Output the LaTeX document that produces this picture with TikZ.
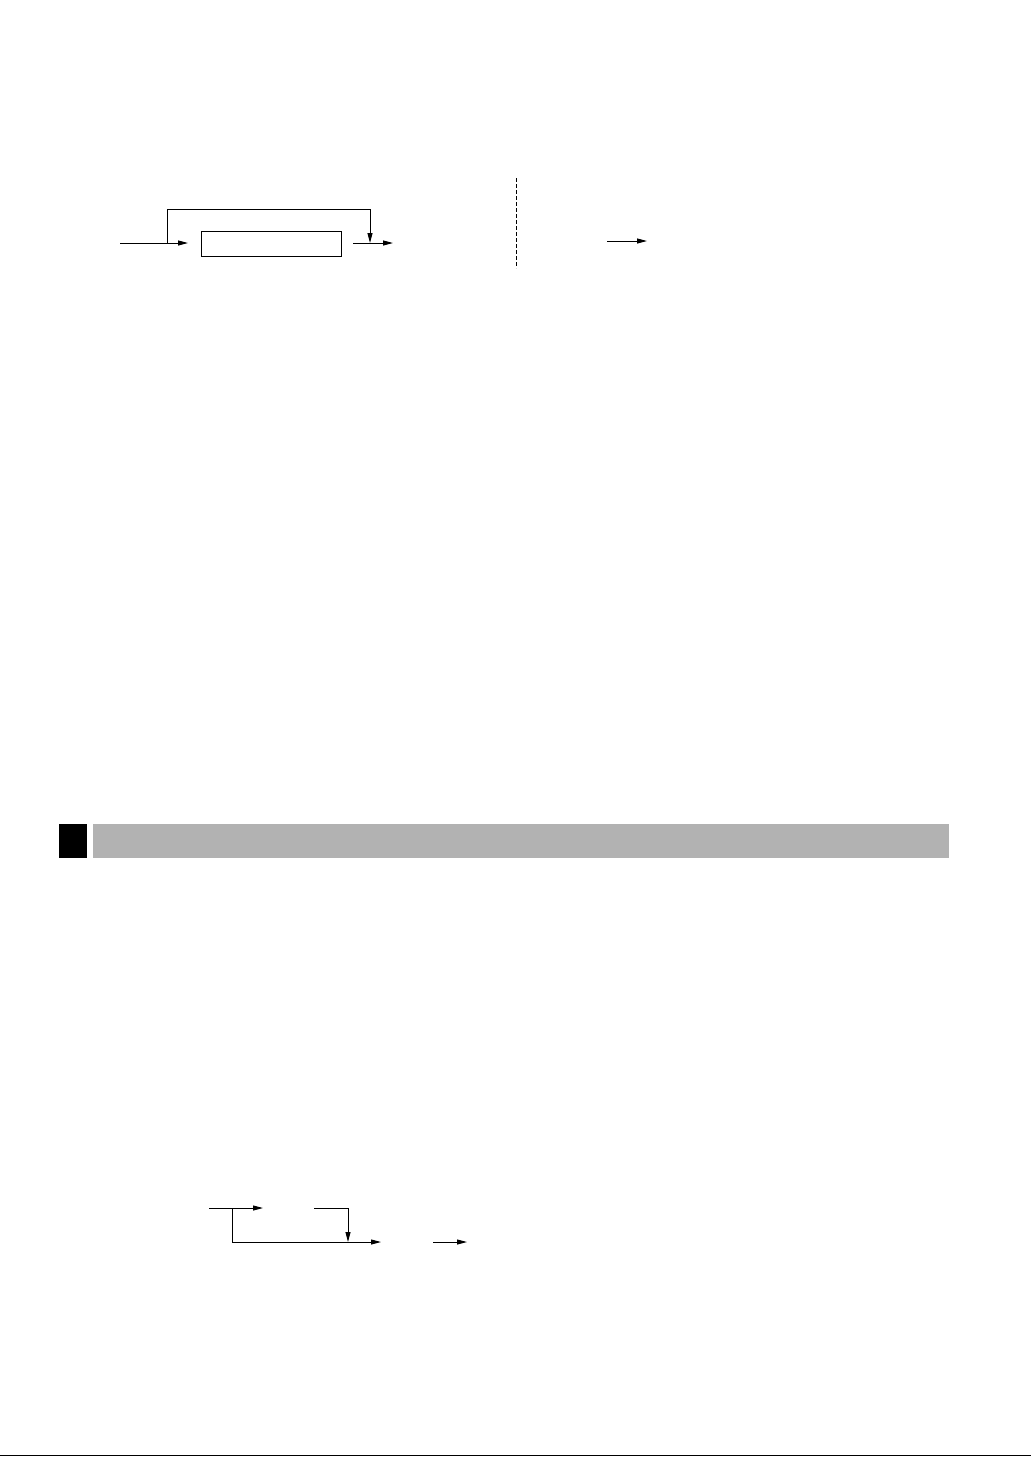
\documentclass[tikz,border=0pt]{standalone}
\usetikzlibrary{arrows.meta}
\begin{document}
\begin{tikzpicture}[x=1pt,y=-1pt,line width=1pt,>={Triangle[length=10pt,width=5pt]}]
      \useasboundingbox (0,0) rectangle (1031,1457);
      % first flow
      \coordinate (in) at (120,243);
      \coordinate (split) at (167,243);
      \coordinate (feed) at (188,243);
      \node[draw,minimum width=140pt,minimum height=25pt,inner sep=0pt] (box) at (271,243.5) {};
      \coordinate (exitA) at (353,243);
      \coordinate (exitB) at (393,243);
      \coordinate (join) at (370,243);
      \draw (in) -- (split);
      \draw[->] (split) -- (feed);
      \draw[->] (split) |- (167,209) -| (join);
      \draw[->] (exitA) -- (exitB);
      \draw[dash pattern=on 4pt off 2pt] (516,178) coordinate (sepT) -- (516,268) coordinate (sepB);
      \draw[->] (607,241) coordinate (nextA) -- (647,241) coordinate (nextB);
      % heading bar
      \fill (59,824) rectangle (87,858);
      \fill[black!30] (93,824) rectangle (949,858);
      % second flow
      \coordinate (startB) at (209,1208);
      \coordinate (tipB) at (263,1208);
      \coordinate (forkB) at (232,1208);
      \coordinate (endB) at (381,1242);
      \draw[->] (startB) -- (tipB);
      \draw[->] (forkB) |- (endB);
      \draw[->] (314,1208) coordinate (retB) -| (348,1242) coordinate (dropB);
      \draw[->] (433,1242) coordinate (lastA) -- (467,1242) coordinate (lastB);
      % bottom rule
      \draw (0,1455.5) coordinate (ruleL) -- (1031,1455.5) coordinate (ruleR);
   \end{tikzpicture}
\end{document}
